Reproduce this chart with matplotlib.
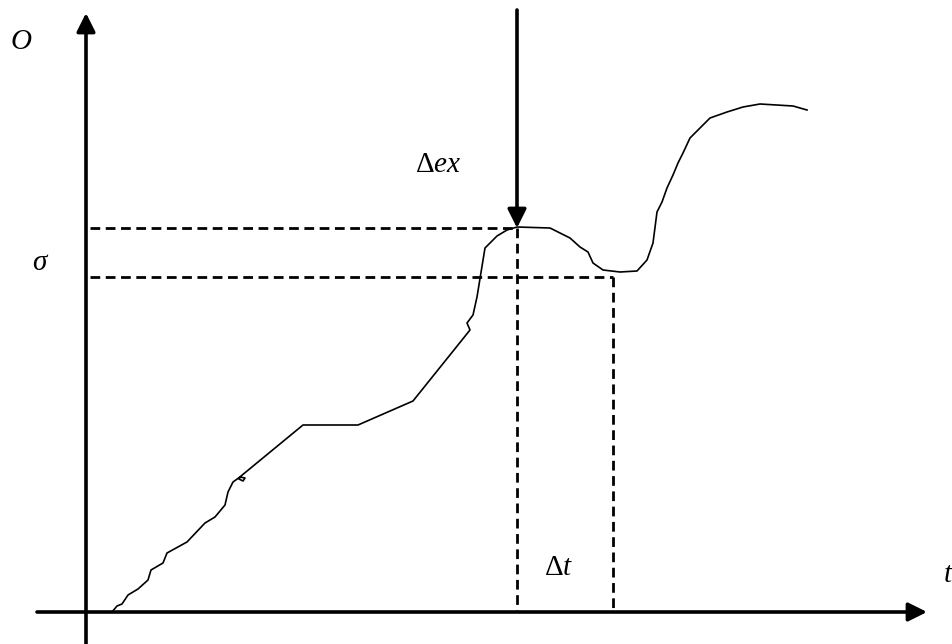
import matplotlib
matplotlib.use("Agg")
import matplotlib.pyplot as plt

plt.rcParams['font.family'] = ['Liberation Serif', 'DejaVu Serif']
plt.rcParams['mathtext.fontset'] = 'custom'
plt.rcParams['mathtext.rm'] = 'Liberation Serif'
plt.rcParams['mathtext.it'] = 'Liberation Serif:italic'

# curve (pixel units, y grows downwards)
curve_x = [112, 117, 122, 128, 138, 148, 151, 163, 167, 187, 205, 215, 225, 228, 233,
           240, 245, 243, 239, 241, 303, 358, 413, 470, 467, 473, 477, 485, 490, 497,
           507, 517, 550, 570, 580, 588, 593, 603, 620, 637, 647, 653, 657, 662, 667,
           673, 678, 683, 690, 698, 710, 727, 743, 760, 793, 807]
curve_y = [612, 606, 604, 595, 589, 580, 570, 563, 553, 542, 523, 517, 505, 492, 482,
           477, 478, 481, 479, 476, 425, 425, 401, 330, 323, 315, 297, 248, 243, 236,
           230, 227, 228, 238, 247, 252, 263, 270, 272, 271, 260, 243, 212, 202, 188,
           175, 163, 153, 138, 130, 118, 112, 107, 104, 106, 110]

peak = (517, 228)       # point hit by the arrow
sigma_pt = (613, 277)   # level sigma and its time
x_axis_y = 612
y_axis_x = 86

fig = plt.figure(figsize=(9.52, 6.44), dpi=100)
ax = fig.add_axes([0, 0, 1, 1])
ax.set_xlim(0, 952)
ax.set_ylim(644, 0)
ax.axis('off')

# axes with arrows
arr = dict(arrowstyle='-|>', lw=2.6, color='black', mutation_scale=28,
           shrinkA=0, shrinkB=0)
ax.annotate('', xy=(y_axis_x, 13), xytext=(y_axis_x, 660), arrowprops=arr,
            annotation_clip=False)
ax.annotate('', xy=(927, x_axis_y), xytext=(37, x_axis_y), arrowprops=arr)
# the delta-ex arrow
ax.annotate('', xy=peak, xytext=(peak[0], 10), arrowprops=arr)

# dashed guides
ds = (0, (3.5, 2))
ax.plot([y_axis_x + 4, peak[0]], [peak[1], peak[1]], color='black', lw=2.0, ls=ds)
ax.plot([peak[0], peak[0]], [peak[1], x_axis_y], color='black', lw=2.0, ls=ds)
ax.plot([y_axis_x + 4, sigma_pt[0]], [sigma_pt[1], sigma_pt[1]], color='black', lw=2.0, ls=ds)
ax.plot([sigma_pt[0], sigma_pt[0]], [sigma_pt[1], x_axis_y], color='black', lw=2.0, ls=ds)

ax.plot(curve_x, curve_y, color='black', lw=1.2, solid_joinstyle='round')

fs = 21
ax.text(21, 42, 'O', style='italic', fontsize=fs, ha='center', va='center')
ax.text(41, 263, r'$\sigma$', fontsize=fs, ha='center', va='center')
ax.text(415, 165, r'$\Delta ex$', fontsize=fs, ha='left', va='center')
ax.text(544, 568, r'$\Delta t$', fontsize=fs, ha='left', va='center')
ax.text(944, 575, 't', style='italic', fontsize=fs, ha='left', va='center')

fig.savefig('out.png', dpi=100)
